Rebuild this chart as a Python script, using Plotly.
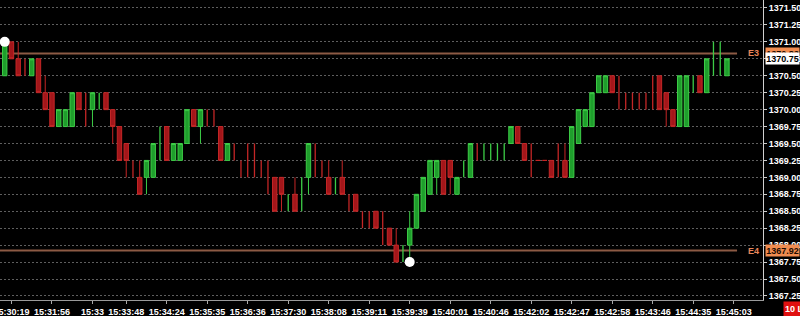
import plotly.graph_objects as go

# ---- data (10 tick bars) ----
bar_open = [1370.50, 1371.00, 1370.75, 1370.50, 1370.50, 1370.75, 1370.25, 1370.25, 1369.75, 1369.75,
            1369.75, 1370.25, 1370.00, 1370.00, 1370.25, 1370.25, 1370.00, 1369.75, 1369.50, 1369.00,
            1369.00, 1369.00, 1369.00, 1369.50, 1369.75, 1369.25, 1369.25, 1369.50, 1370.00, 1369.75,
            1369.75, 1369.75, 1369.75, 1369.25, 1369.25, 1369.00, 1369.25, 1369.25, 1369.00, 1369.00,
            1369.00, 1369.00, 1368.75, 1368.75, 1368.75, 1369.00, 1369.25, 1369.00, 1369.00, 1369.00,
            1369.00, 1368.50, 1368.75, 1368.25, 1368.25, 1368.50, 1368.25, 1368.25, 1368.00, 1368.00,
            1368.00, 1368.25, 1368.50, 1368.75, 1369.00, 1369.25, 1369.25, 1368.75, 1369.25, 1369.00,
            1369.25, 1369.50, 1369.50, 1369.50, 1369.50, 1369.50, 1369.75, 1369.50, 1369.25, 1369.25,
            1369.25, 1369.25, 1369.25, 1369.25, 1369.00, 1369.50, 1369.75, 1369.75, 1370.25, 1370.25,
            1370.50, 1370.25, 1370.00, 1370.00, 1370.00, 1370.00, 1370.25, 1370.50, 1370.25, 1370.00,
            1369.75, 1369.75, 1370.50, 1370.50, 1370.25, 1370.75, 1370.75, 1370.50]
bar_high = [1371.00, 1371.00, 1371.00, 1370.75, 1370.75, 1370.75, 1370.50, 1370.25, 1370.00, 1370.00,
            1370.25, 1370.25, 1370.25, 1370.25, 1370.25, 1370.25, 1370.00, 1369.75, 1369.50, 1369.25,
            1369.25, 1369.25, 1369.50, 1369.75, 1369.75, 1369.50, 1369.50, 1370.00, 1370.00, 1370.00,
            1370.00, 1370.00, 1369.75, 1369.50, 1369.50, 1369.25, 1369.50, 1369.50, 1369.25, 1369.25,
            1369.00, 1369.00, 1368.75, 1369.00, 1369.00, 1369.50, 1369.50, 1369.25, 1369.25, 1369.00,
            1369.25, 1368.75, 1368.75, 1368.50, 1368.50, 1368.50, 1368.50, 1368.25, 1368.25, 1368.00,
            1368.50, 1368.75, 1369.00, 1369.25, 1369.25, 1369.25, 1369.25, 1369.00, 1369.25, 1369.50,
            1369.50, 1369.50, 1369.50, 1369.50, 1369.50, 1369.75, 1369.75, 1369.50, 1369.50, 1369.25,
            1369.25, 1369.25, 1369.50, 1369.50, 1369.75, 1370.00, 1370.00, 1370.25, 1370.50, 1370.50,
            1370.50, 1370.50, 1370.25, 1370.25, 1370.25, 1370.25, 1370.50, 1370.50, 1370.25, 1370.00,
            1370.50, 1370.50, 1370.50, 1370.50, 1370.75, 1371.00, 1371.00, 1370.75]
bar_low = [1370.50, 1370.75, 1370.50, 1370.50, 1370.50, 1370.25, 1370.00, 1369.75, 1369.75, 1369.75,
           1369.75, 1370.00, 1369.75, 1369.75, 1370.00, 1370.00, 1369.50, 1369.25, 1369.00, 1369.00,
           1368.75, 1368.75, 1369.00, 1369.25, 1369.25, 1369.25, 1369.25, 1369.50, 1369.75, 1369.50,
           1369.75, 1369.75, 1369.25, 1369.25, 1369.25, 1369.00, 1369.00, 1369.00, 1369.00, 1368.75,
           1368.50, 1368.50, 1368.50, 1368.50, 1368.50, 1368.75, 1369.00, 1369.00, 1368.75, 1368.75,
           1368.75, 1368.50, 1368.50, 1368.25, 1368.25, 1368.25, 1368.00, 1368.00, 1367.75, 1367.75,
           1367.75, 1368.25, 1368.50, 1368.75, 1368.75, 1368.75, 1368.75, 1368.75, 1369.00, 1369.00,
           1369.25, 1369.25, 1369.25, 1369.25, 1369.25, 1369.50, 1369.50, 1369.25, 1369.00, 1369.25,
           1369.25, 1369.00, 1369.00, 1369.00, 1369.00, 1369.50, 1369.75, 1369.75, 1370.25, 1370.25,
           1370.25, 1370.00, 1370.00, 1370.00, 1370.00, 1370.00, 1370.00, 1370.00, 1369.75, 1369.75,
           1369.75, 1369.75, 1370.25, 1370.25, 1370.25, 1370.50, 1370.50, 1370.50]
bar_close = [1371.00, 1370.75, 1370.50, 1370.50, 1370.75, 1370.25, 1370.00, 1369.75, 1370.00, 1370.00,
             1370.25, 1370.00, 1370.00, 1370.25, 1370.25, 1370.00, 1369.75, 1369.25, 1369.25, 1369.00,
             1368.75, 1369.25, 1369.50, 1369.50, 1369.25, 1369.50, 1369.50, 1370.00, 1369.75, 1370.00,
             1369.75, 1369.75, 1369.25, 1369.50, 1369.25, 1369.00, 1369.25, 1369.25, 1369.00, 1369.00,
             1368.50, 1368.75, 1368.75, 1368.50, 1368.75, 1369.50, 1369.25, 1369.00, 1368.75, 1369.00,
             1368.75, 1368.50, 1368.50, 1368.25, 1368.25, 1368.25, 1368.25, 1368.00, 1367.75, 1368.00,
             1368.25, 1368.75, 1369.00, 1369.25, 1369.25, 1368.75, 1369.00, 1369.00, 1369.25, 1369.50,
             1369.25, 1369.50, 1369.50, 1369.50, 1369.50, 1369.75, 1369.50, 1369.25, 1369.25, 1369.25,
             1369.25, 1369.00, 1369.25, 1369.00, 1369.75, 1370.00, 1370.00, 1370.25, 1370.50, 1370.50,
             1370.25, 1370.25, 1370.00, 1370.00, 1370.00, 1370.00, 1370.25, 1370.00, 1370.00, 1369.75,
             1370.50, 1370.50, 1370.50, 1370.25, 1370.75, 1370.75, 1370.75, 1370.75]
bar_color = list("grrrgrrrgg" "grrggrrrrr" "rgggrgggrg" "rrrgrrrrrr" "rrgrggrrrg"
                 "rrrrrrrrrg" "gggggrrggg" "rgggggrrrr" "rrrrgggggg" "rrrrrrrrrr" "gggrgggg")

x_tick_pos = [1, 7, 13, 18, 24, 30, 36, 42, 48, 54, 60, 66, 72, 78, 84, 90, 96, 102, 108]
x_tick_text = ["15:30:19", "15:31:56", "15:33", "15:33:48", "15:34:24", "15:35:35", "15:36:36",
               "15:37:30", "15:38:08", "15:39:11", "15:39:39", "15:40:01", "15:40:46", "15:42:02",
               "15:42:47", "15:42:58", "15:43:46", "15:44:35", "15:45:03"]

level_names = ["E3", "E4"]
level_values = [1370.83, 1367.92]
last_price = 1370.75
dot_x = [0, 60]
dot_y = [1371.00, 1367.75]
bar_label = "10 L"

GREEN_LINE, GREEN_FILL = "#3ccc46", "#1f9e2c"
RED_LINE, RED_FILL = "#c42626", "#a3161a"

n = min(len(bar_open), len(bar_high), len(bar_low), len(bar_close), len(bar_color))

fig = go.Figure()
for code, lc, fc in [("g", GREEN_LINE, GREEN_FILL), ("r", RED_LINE, RED_FILL)]:
    # bars with a body (or completely flat bars) -> candlesticks
    idx = [i for i in range(n) if bar_color[i] == code
           and (bar_open[i] != bar_close[i] or bar_high[i] == bar_low[i])]
    fig.add_trace(go.Candlestick(
        x=idx,
        open=[bar_open[i] for i in idx], high=[bar_high[i] for i in idx],
        low=[bar_low[i] for i in idx], close=[bar_close[i] for i in idx],
        increasing=dict(line=dict(color=lc, width=1), fillcolor=fc),
        decreasing=dict(line=dict(color=lc, width=1), fillcolor=fc),
        whiskerwidth=0, showlegend=False, hoverinfo="skip"))
    # doji bars (open == close) -> plain vertical range lines
    didx = [i for i in range(n) if bar_color[i] == code
            and bar_open[i] == bar_close[i] and bar_high[i] != bar_low[i]]
    fig.add_trace(go.Ohlc(
        x=didx,
        open=[bar_open[i] for i in didx], high=[bar_high[i] for i in didx],
        low=[bar_low[i] for i in didx], close=[bar_close[i] for i in didx],
        increasing=dict(line=dict(color=lc, width=1.3)),
        decreasing=dict(line=dict(color=lc, width=1.3)),
        tickwidth=0, showlegend=False, hoverinfo="skip"))

fig.add_trace(go.Scatter(x=dot_x, y=dot_y, mode="markers",
                         marker=dict(color="white", size=10, line=dict(width=0)),
                         showlegend=False, hoverinfo="skip", cliponaxis=False))

FONT = "Liberation Sans, Arial, sans-serif"
shapes = []
annotations = []
for name, val in zip(level_names, level_values):
    shapes.append(dict(type="line", xref="paper", x0=0, x1=0.966, yref="y", y0=val, y1=val,
                       line=dict(color="#8c5a44", width=2), layer="below"))
    annotations.append(dict(xref="paper", x=0.998, xanchor="right", yref="y", y=val, yanchor="middle",
                            text=name, showarrow=False,
                            font=dict(family=FONT, size=9, color="#e8865a", weight="bold")))
    annotations.append(dict(xref="paper", x=1, xanchor="left", xshift=2, yref="y", y=val,
                            yanchor="middle", text=f"{val:.2f}", showarrow=False,
                            bgcolor="#f08c50", borderpad=0, width=33, height=11,
                            font=dict(family=FONT, size=9, color="#1a0a00", weight="bold")))
annotations.append(dict(xref="paper", x=1, xanchor="left", xshift=2, yref="y", y=last_price,
                        yanchor="middle", text=f"{last_price:.2f}", showarrow=False,
                        bgcolor="white", borderpad=0, width=33, height=11,
                        font=dict(family=FONT, size=9, color="black", weight="bold")))
annotations.append(dict(xref="paper", x=783 / 763, xanchor="left", yref="paper", y=-0.03,
                        yanchor="middle", text=bar_label, showarrow=False, align="left",
                        bgcolor="#e01010", borderpad=1, width=22, height=12,
                        font=dict(family=FONT, size=9, color="white", weight="bold")))

fig.update_layout(
    width=800, height=316,
    margin=dict(l=0, r=37, t=0, b=16, pad=0, autoexpand=False),
    paper_bgcolor="black", plot_bgcolor="black",
    boxgap=0.35, boxgroupgap=0, boxmode="overlay",
    shapes=shapes, annotations=annotations,
    xaxis=dict(range=[-0.70, 112.34], tickmode="array", tickvals=x_tick_pos, ticktext=x_tick_text,
               ticks="outside", ticklen=3, tickcolor="#aaaaaa", showline=True, linecolor="#9a9a9a",
               linewidth=1, showgrid=False, zeroline=False, rangeslider=dict(visible=False),
               ticklabeloverflow="allow", automargin=False,
               tickfont=dict(family=FONT, size=9, color="white", weight="bold")),
    yaxis=dict(side="right", range=[1367.19, 1371.618], tick0=1367.25, dtick=0.25,
               tickformat=".2f", ticks="outside", ticklen=3, tickcolor="#cccccc",
               showline=True, linecolor="#d0d0d0", linewidth=1, zeroline=False, automargin=False,
               showgrid=True, gridcolor="#5e5e5e", griddash="2px,2px", gridwidth=1,
               tickfont=dict(family=FONT, size=9, color="white", weight="bold")),
)

fig.write_html("out.html")
